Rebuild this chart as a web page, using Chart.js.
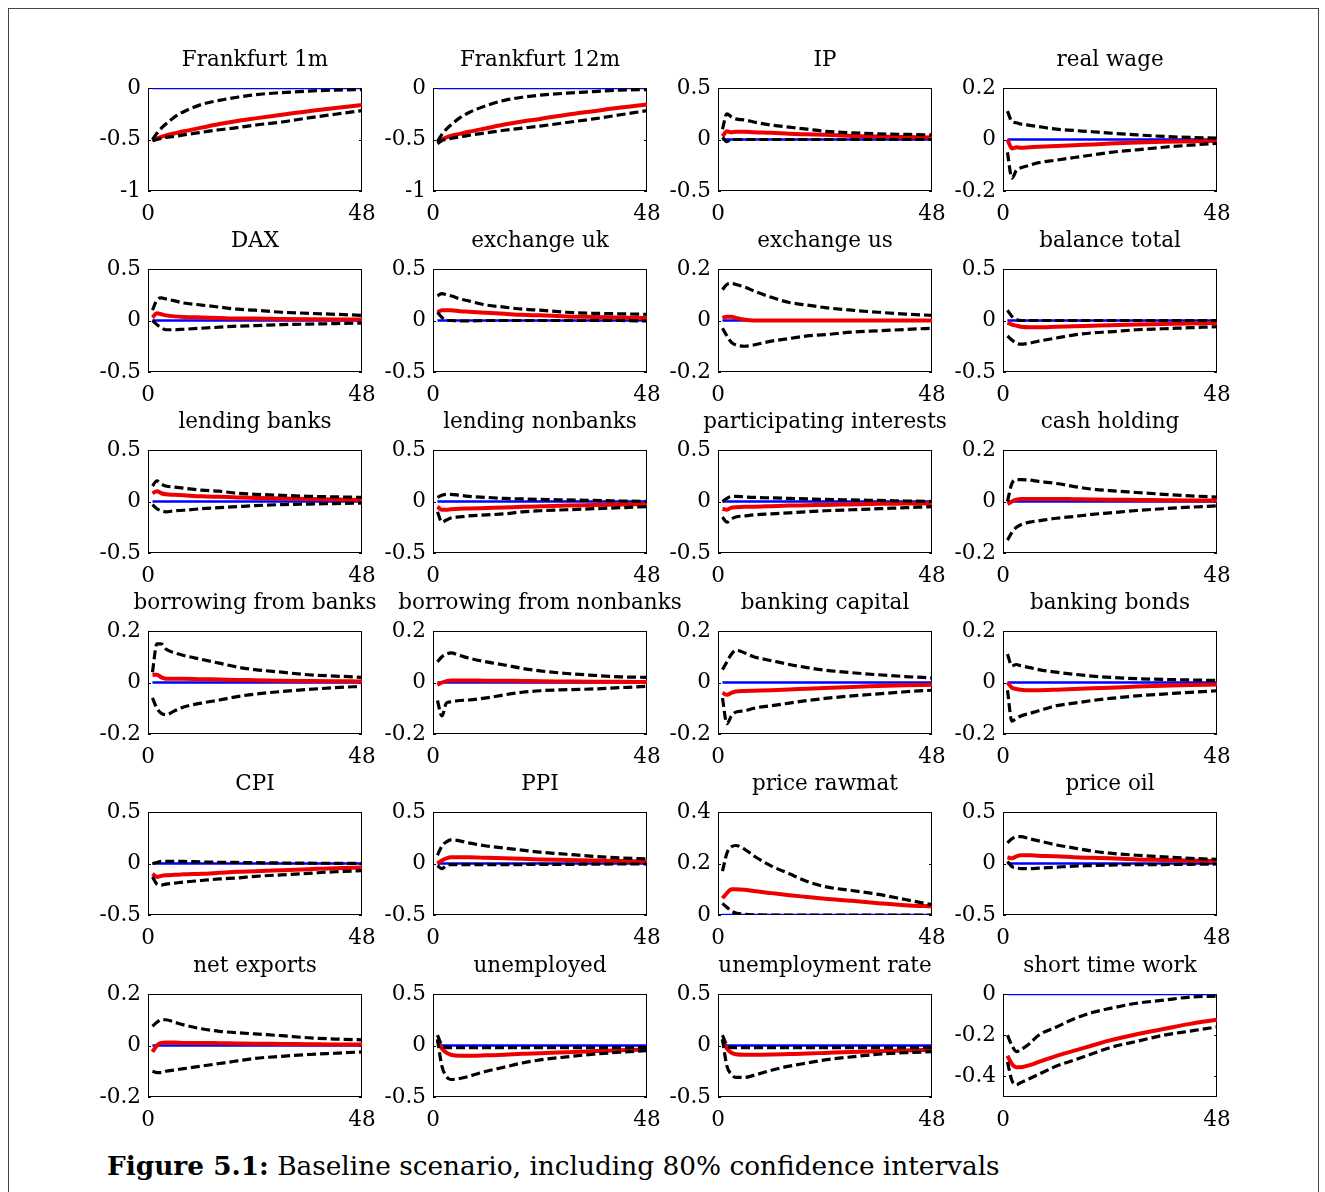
<!DOCTYPE html>
<html>
<head>
<meta charset="utf-8">
<script src="https://cdn.jsdelivr.net/npm/chart.js@4.4.1/dist/chart.umd.min.js"></script>
<style>
  html, body { margin: 0; padding: 0; background: #fff; }
  body { width: 1325px; height: 1192px; position: relative; overflow: hidden; }
  #frame { position: absolute; left: 8px; top: 8px; width: 1311px; height: 1300px;
           border: 1px solid #444; box-sizing: border-box; }
  canvas.panel { position: absolute; }
  #caption { position: absolute; left: 107px; white-space: nowrap; color: #000;
             font-family: "DejaVu Serif", serif; line-height: 1; }
</style>
</head>
<body>
<div id="frame"></div>
<div id="caption"><b id="capLabel"></b><span id="capText"></span></div>
<script>
// Impulse responses over a 48-month horizon: median (red) with 80% bands (dashed)
const horizons = [1, 2, 3, 4, 6, 8, 12, 16, 20, 24, 30, 36, 42, 48];
const zeroLevel = 0;

const titles = [
  'Frankfurt 1m', 'Frankfurt 12m', 'IP', 'real wage',
  'DAX', 'exchange uk', 'exchange us', 'balance total',
  'lending banks', 'lending nonbanks', 'participating interests', 'cash holding',
  'borrowing from banks', 'borrowing from nonbanks', 'banking capital', 'banking bonds',
  'CPI', 'PPI', 'price rawmat', 'price oil',
  'net exports', 'unemployed', 'unemployment rate', 'short time work'
];

const yTicks = [
  [-1, -0.5, 0], [-1, -0.5, 0], [-0.5, 0, 0.5], [-0.2, 0, 0.2],
  [-0.5, 0, 0.5], [-0.5, 0, 0.5], [-0.2, 0, 0.2], [-0.5, 0, 0.5],
  [-0.5, 0, 0.5], [-0.5, 0, 0.5], [-0.5, 0, 0.5], [-0.2, 0, 0.2],
  [-0.2, 0, 0.2], [-0.2, 0, 0.2], [-0.2, 0, 0.2], [-0.2, 0, 0.2],
  [-0.5, 0, 0.5], [-0.5, 0, 0.5], [0, 0.2, 0.4], [-0.5, 0, 0.5],
  [-0.2, 0, 0.2], [-0.5, 0, 0.5], [-0.5, 0, 0.5], [-0.4, -0.2, 0]
];
const yMin = [-1, -1, -0.5, -0.2, -0.5, -0.5, -0.2, -0.5, -0.5, -0.5, -0.5, -0.2,
              -0.2, -0.2, -0.2, -0.2, -0.5, -0.5, 0, -0.5, -0.2, -0.5, -0.5, -0.5];
const yMax = [0, 0, 0.5, 0.2, 0.5, 0.5, 0.2, 0.5, 0.5, 0.5, 0.5, 0.2,
              0.2, 0.2, 0.2, 0.2, 0.5, 0.5, 0.4, 0.5, 0.2, 0.5, 0.5, 0];

const upperBand = [
  [-0.50, -0.44, -0.39, -0.35, -0.28, -0.23, -0.16, -0.12, -0.09, -0.065, -0.045, -0.03, -0.02, -0.015],
  [-0.52, -0.45, -0.40, -0.36, -0.29, -0.24, -0.17, -0.12, -0.09, -0.07, -0.05, -0.035, -0.02, -0.015],
  [0.10, 0.25, 0.22, 0.20, 0.19, 0.17, 0.14, 0.12, 0.10, 0.08, 0.065, 0.055, 0.05, 0.045],
  [0.11, 0.07, 0.065, 0.06, 0.055, 0.05, 0.04, 0.035, 0.03, 0.025, 0.018, 0.012, 0.008, 0.005],
  [0.10, 0.20, 0.22, 0.21, 0.19, 0.17, 0.15, 0.13, 0.11, 0.10, 0.08, 0.07, 0.06, 0.05],
  [0.24, 0.26, 0.25, 0.24, 0.21, 0.19, 0.15, 0.13, 0.11, 0.10, 0.08, 0.07, 0.065, 0.06],
  [0.12, 0.14, 0.145, 0.14, 0.13, 0.115, 0.09, 0.07, 0.06, 0.05, 0.04, 0.032, 0.025, 0.02],
  [0.10, 0.04, 0.01, 0.0, 0.0, 0.0, 0.0, 0.0, 0.0, 0.0, 0.0, 0.0, 0.0, 0.0],
  [0.15, 0.20, 0.17, 0.15, 0.14, 0.13, 0.11, 0.10, 0.08, 0.07, 0.06, 0.05, 0.045, 0.04],
  [0.04, 0.06, 0.07, 0.07, 0.06, 0.05, 0.04, 0.03, 0.025, 0.02, 0.015, 0.01, 0.005, 0.0],
  [0.0, 0.03, 0.05, 0.05, 0.045, 0.04, 0.035, 0.03, 0.025, 0.02, 0.015, 0.01, 0.005, 0.0],
  [0.0, 0.07, 0.085, 0.085, 0.083, 0.078, 0.07, 0.058, 0.048, 0.042, 0.035, 0.028, 0.022, 0.017],
  [0.04, 0.15, 0.15, 0.13, 0.115, 0.105, 0.09, 0.075, 0.06, 0.05, 0.04, 0.03, 0.025, 0.02],
  [0.08, 0.10, 0.11, 0.115, 0.105, 0.095, 0.08, 0.068, 0.055, 0.045, 0.035, 0.028, 0.022, 0.02],
  [0.05, 0.08, 0.11, 0.125, 0.115, 0.10, 0.085, 0.07, 0.058, 0.048, 0.038, 0.03, 0.023, 0.018],
  [0.11, 0.065, 0.07, 0.065, 0.058, 0.05, 0.04, 0.032, 0.025, 0.02, 0.015, 0.012, 0.01, 0.008],
  [0.0, 0.01, 0.02, 0.02, 0.02, 0.02, 0.015, 0.012, 0.01, 0.008, 0.005, 0.003, 0.002, 0.0],
  [0.08, 0.17, 0.21, 0.23, 0.22, 0.20, 0.17, 0.15, 0.13, 0.11, 0.09, 0.07, 0.055, 0.045],
  [0.17, 0.24, 0.265, 0.27, 0.255, 0.23, 0.19, 0.16, 0.13, 0.11, 0.095, 0.08, 0.06, 0.04],
  [0.20, 0.24, 0.26, 0.26, 0.24, 0.22, 0.18, 0.15, 0.12, 0.10, 0.08, 0.065, 0.05, 0.04],
  [0.075, 0.09, 0.10, 0.10, 0.09, 0.08, 0.065, 0.055, 0.05, 0.045, 0.038, 0.03, 0.025, 0.022],
  [0.10, 0.0, -0.02, -0.02, -0.02, -0.02, -0.02, -0.02, -0.02, -0.02, -0.02, -0.02, -0.02, -0.02],
  [0.10, 0.0, -0.02, -0.02, -0.02, -0.02, -0.02, -0.02, -0.02, -0.02, -0.02, -0.02, -0.02, -0.02],
  [-0.20, -0.25, -0.28, -0.27, -0.24, -0.20, -0.16, -0.12, -0.09, -0.07, -0.045, -0.03, -0.015, -0.01]
];

const medianPath = [
  [-0.51, -0.49, -0.475, -0.46, -0.44, -0.42, -0.385, -0.35, -0.32, -0.295, -0.26, -0.225, -0.195, -0.165],
  [-0.53, -0.50, -0.48, -0.465, -0.445, -0.425, -0.39, -0.355, -0.325, -0.30, -0.26, -0.225, -0.19, -0.16],
  [0.03, 0.08, 0.07, 0.075, 0.075, 0.07, 0.065, 0.055, 0.05, 0.045, 0.035, 0.03, 0.025, 0.02],
  [0.0, -0.035, -0.03, -0.032, -0.03, -0.028, -0.025, -0.022, -0.019, -0.016, -0.012, -0.009, -0.007, -0.005],
  [0.03, 0.07, 0.06, 0.05, 0.04, 0.035, 0.03, 0.025, 0.02, 0.02, 0.015, 0.012, 0.01, 0.01],
  [0.08, 0.10, 0.10, 0.10, 0.09, 0.085, 0.075, 0.065, 0.055, 0.05, 0.04, 0.035, 0.03, 0.025],
  [0.01, 0.015, 0.015, 0.01, 0.003, 0.0, 0.0, 0.0, 0.0, 0.0, 0.0, 0.0, 0.0, 0.0],
  [-0.02, -0.04, -0.05, -0.06, -0.065, -0.065, -0.06, -0.055, -0.05, -0.045, -0.04, -0.035, -0.03, -0.025],
  [0.08, 0.10, 0.08, 0.07, 0.065, 0.06, 0.05, 0.045, 0.04, 0.035, 0.03, 0.025, 0.02, 0.015],
  [-0.05, -0.08, -0.08, -0.075, -0.07, -0.068, -0.063, -0.058, -0.052, -0.047, -0.04, -0.035, -0.03, -0.025],
  [-0.07, -0.08, -0.06, -0.055, -0.05, -0.05, -0.045, -0.04, -0.037, -0.033, -0.028, -0.023, -0.02, -0.017],
  [-0.01, 0.0, 0.007, 0.01, 0.01, 0.01, 0.01, 0.009, 0.008, 0.007, 0.006, 0.005, 0.004, 0.004],
  [0.03, 0.03, 0.02, 0.015, 0.015, 0.015, 0.013, 0.012, 0.01, 0.009, 0.007, 0.006, 0.005, 0.004],
  [-0.01, 0.0, 0.005, 0.008, 0.008, 0.008, 0.007, 0.007, 0.006, 0.005, 0.004, 0.003, 0.003, 0.002],
  [-0.04, -0.048, -0.04, -0.035, -0.033, -0.032, -0.03, -0.027, -0.024, -0.021, -0.017, -0.014, -0.011, -0.009],
  [0.0, -0.02, -0.025, -0.028, -0.03, -0.03, -0.028, -0.025, -0.022, -0.02, -0.016, -0.013, -0.01, -0.008],
  [-0.10, -0.13, -0.12, -0.115, -0.11, -0.105, -0.10, -0.09, -0.08, -0.075, -0.065, -0.055, -0.045, -0.04],
  [0.0, 0.03, 0.05, 0.06, 0.06, 0.06, 0.055, 0.05, 0.045, 0.04, 0.035, 0.03, 0.025, 0.02],
  [0.065, 0.085, 0.10, 0.10, 0.098, 0.093, 0.085, 0.077, 0.07, 0.063, 0.055, 0.046, 0.038, 0.033],
  [0.06, 0.05, 0.07, 0.08, 0.08, 0.075, 0.07, 0.06, 0.055, 0.05, 0.04, 0.035, 0.03, 0.025],
  [-0.025, 0.0, 0.01, 0.012, 0.012, 0.01, 0.01, 0.009, 0.008, 0.007, 0.006, 0.005, 0.004, 0.004],
  [0.05, -0.03, -0.07, -0.09, -0.10, -0.10, -0.095, -0.09, -0.08, -0.075, -0.065, -0.055, -0.045, -0.04],
  [0.06, -0.03, -0.07, -0.085, -0.09, -0.09, -0.088, -0.083, -0.078, -0.072, -0.063, -0.055, -0.048, -0.043],
  [-0.30, -0.34, -0.355, -0.355, -0.345, -0.33, -0.30, -0.275, -0.25, -0.225, -0.195, -0.17, -0.145, -0.125]
];

const lowerBand = [
  [-0.51, -0.50, -0.49, -0.48, -0.47, -0.455, -0.43, -0.405, -0.385, -0.36, -0.33, -0.29, -0.255, -0.22],
  [-0.54, -0.51, -0.50, -0.49, -0.475, -0.46, -0.435, -0.41, -0.39, -0.37, -0.335, -0.30, -0.26, -0.22],
  [0.02, -0.02, 0.0, 0.0, 0.0, 0.0, 0.0, 0.0, 0.0, 0.0, 0.0, 0.0, 0.0, 0.0],
  [-0.05, -0.15, -0.12, -0.11, -0.10, -0.09, -0.08, -0.07, -0.06, -0.05, -0.04, -0.03, -0.022, -0.015],
  [0.0, -0.04, -0.07, -0.09, -0.09, -0.085, -0.075, -0.065, -0.055, -0.05, -0.04, -0.035, -0.03, -0.025],
  [0.08, 0.03, 0.0, 0.0, -0.005, -0.005, 0.0, 0.0, 0.0, 0.0, 0.0, 0.0, 0.0, -0.005],
  [-0.03, -0.06, -0.085, -0.095, -0.10, -0.095, -0.08, -0.07, -0.06, -0.055, -0.045, -0.04, -0.035, -0.03],
  [-0.15, -0.19, -0.22, -0.23, -0.22, -0.20, -0.17, -0.14, -0.12, -0.11, -0.09, -0.08, -0.07, -0.06],
  [-0.03, -0.07, -0.09, -0.10, -0.09, -0.085, -0.07, -0.06, -0.05, -0.04, -0.03, -0.025, -0.02, -0.015],
  [-0.10, -0.20, -0.18, -0.16, -0.15, -0.14, -0.13, -0.12, -0.10, -0.09, -0.08, -0.07, -0.06, -0.05],
  [-0.15, -0.20, -0.17, -0.15, -0.14, -0.13, -0.12, -0.11, -0.10, -0.09, -0.08, -0.07, -0.06, -0.05],
  [-0.15, -0.12, -0.10, -0.09, -0.08, -0.075, -0.065, -0.058, -0.05, -0.044, -0.035, -0.028, -0.022, -0.017],
  [-0.06, -0.10, -0.12, -0.125, -0.11, -0.095, -0.08, -0.068, -0.055, -0.045, -0.035, -0.027, -0.02, -0.015],
  [-0.07, -0.13, -0.08, -0.075, -0.07, -0.068, -0.06, -0.048, -0.038, -0.032, -0.028, -0.025, -0.02, -0.015],
  [-0.06, -0.16, -0.13, -0.115, -0.11, -0.10, -0.09, -0.08, -0.07, -0.062, -0.052, -0.044, -0.036, -0.03],
  [-0.03, -0.15, -0.14, -0.13, -0.12, -0.11, -0.09, -0.08, -0.07, -0.062, -0.052, -0.045, -0.038, -0.032],
  [-0.13, -0.20, -0.21, -0.20, -0.19, -0.18, -0.165, -0.15, -0.14, -0.125, -0.11, -0.095, -0.08, -0.07],
  [-0.02, -0.05, -0.02, -0.01, -0.01, -0.01, -0.01, -0.01, -0.01, -0.008, -0.008, -0.006, -0.005, -0.005],
  [0.045, 0.03, 0.015, 0.008, 0.003, 0.001, 0.0, 0.0, 0.0, 0.0, 0.0, 0.0, 0.0, 0.0],
  [0.02, -0.03, -0.04, -0.05, -0.05, -0.045, -0.035, -0.025, -0.02, -0.015, -0.01, -0.01, -0.008, -0.005],
  [-0.10, -0.105, -0.105, -0.10, -0.095, -0.09, -0.08, -0.07, -0.06, -0.05, -0.042, -0.035, -0.03, -0.025],
  [0.06, -0.20, -0.30, -0.33, -0.32, -0.30, -0.25, -0.21, -0.17, -0.14, -0.11, -0.085, -0.065, -0.05],
  [0.06, -0.20, -0.28, -0.31, -0.31, -0.29, -0.24, -0.20, -0.17, -0.14, -0.11, -0.085, -0.07, -0.06],
  [-0.33, -0.42, -0.44, -0.43, -0.41, -0.39, -0.35, -0.32, -0.29, -0.26, -0.23, -0.20, -0.18, -0.16]
];

const xTicks = [0, 48];
const captionLabel = 'Figure 5.1:';
const captionText = ' Baseline scenario, including 80% confidence intervals';

// ---- layout ----
const FONT = '"DejaVu Serif", serif';
const FONT_SIZE = 21.5;
const colLeft = [148, 433, 718, 1003];
const rowTop = [88, 269, 450, 631, 812, 994];
const PLOT_W = 214, PLOT_H = 103;
const PAD_L = 20, YAXIS_W = 60, PAD_T = 45, PAD_R = 40, XAXIS_H = 34;

Chart.defaults.font.family = FONT;
Chart.defaults.font.size = FONT_SIZE;
Chart.defaults.color = '#000';

// axes box, inward tick marks and panel title
const axesBox = {
  id: 'axesBox',
  beforeDatasetsDraw(chart) {
    const { ctx, chartArea: a } = chart;
    const ys = chart.scales.y;
    ctx.save();
    ctx.strokeStyle = '#000';
    ctx.lineWidth = 1;
    ctx.strokeRect(Math.round(a.left) + 0.5, Math.round(a.top) + 0.5,
                   Math.round(a.right - a.left) - 1, Math.round(a.bottom - a.top) - 1);
    ctx.beginPath();
    ys.ticks.forEach(t => {
      const py = Math.round(ys.getPixelForValue(t.value)) + 0.5;
      ctx.moveTo(a.left, py); ctx.lineTo(a.left + 3, py);
      ctx.moveTo(a.right - 3, py); ctx.lineTo(a.right, py);
    });
    ctx.stroke();
    ctx.restore();
  },
  afterDraw(chart, args, opts) {
    const { ctx, chartArea: a } = chart;
    ctx.save();
    ctx.font = FONT_SIZE + 'px ' + FONT;
    ctx.fillStyle = '#000';
    ctx.textAlign = 'center';
    ctx.textBaseline = 'alphabetic';
    ctx.fillText(opts.text, (a.left + a.right) / 2, a.top - 22);
    ctx.restore();
  }
};

const pts = vals => horizons.map((h, k) => ({ x: h, y: vals[k] }));

titles.forEach((title, i) => {
  const col = i % 4, row = Math.floor(i / 4);
  const cv = document.createElement('canvas');
  cv.className = 'panel';
  cv.width = PAD_L + YAXIS_W + PLOT_W + PAD_R;
  cv.height = PAD_T + PLOT_H + XAXIS_H;
  cv.style.left = (colLeft[col] - PAD_L - YAXIS_W) + 'px';
  cv.style.top = (rowTop[row] - PAD_T) + 'px';
  document.body.appendChild(cv);

  const dashed = { borderColor: '#000', borderWidth: 3.2, borderDash: [9, 4] };
  new Chart(cv, {
    type: 'line',
    data: {
      datasets: [
        { data: pts(upperBand[i]), ...dashed },
        { data: pts(lowerBand[i]), ...dashed },
        { data: pts(medianPath[i]), borderColor: 'rgb(238,0,0)', borderWidth: 4 },
        { data: [{ x: horizons[0], y: zeroLevel }, { x: horizons[horizons.length - 1], y: zeroLevel }],
          borderColor: '#0000ff', borderWidth: 2.5 }
      ]
    },
    options: {
      responsive: false,
      animation: false,
      devicePixelRatio: 1,
      layout: { padding: { left: PAD_L, top: PAD_T, right: PAD_R, bottom: 0 } },
      elements: {
        point: { radius: 0, hoverRadius: 0 },
        line: { cubicInterpolationMode: 'monotone', borderCapStyle: 'butt', fill: false }
      },
      plugins: { legend: { display: false }, tooltip: { enabled: false }, axesBox: { text: title } },
      events: [],
      scales: {
        x: {
          type: 'linear', min: 0, max: 48,
          grid: { display: false, drawTicks: false, tickLength: 0 }, border: { display: false },
          afterBuildTicks: s => { s.ticks = xTicks.map(v => ({ value: v })); },
          afterFit: s => { s.height = XAXIS_H; },
          ticks: { padding: 11, maxRotation: 0, callback: v => String(v) }
        },
        y: {
          type: 'linear', min: yMin[i], max: yMax[i],
          grid: { display: false, drawTicks: false, tickLength: 0 }, border: { display: false },
          afterBuildTicks: s => { s.ticks = yTicks[i].map(v => ({ value: v })); },
          afterFit: s => { s.width = YAXIS_W; },
          ticks: { padding: 7, callback: v => String(v) }
        }
      }
    },
    plugins: [axesBox]
  });
});

// caption sized to span its line
(function () {
  const m = document.createElement('canvas').getContext('2d');
  m.font = 'bold 100px ' + FONT;
  const w1 = m.measureText(captionLabel).width;
  m.font = '100px ' + FONT;
  const w2 = m.measureText(captionText).width;
  const size = 100 * 893 / (w1 + w2);
  const cap = document.getElementById('caption');
  document.getElementById('capLabel').textContent = captionLabel;
  document.getElementById('capText').textContent = captionText;
  cap.style.fontSize = size.toFixed(2) + 'px';
  cap.style.top = (1175 - 0.846 * size).toFixed(1) + 'px';
})();
</script>
</body>
</html>
